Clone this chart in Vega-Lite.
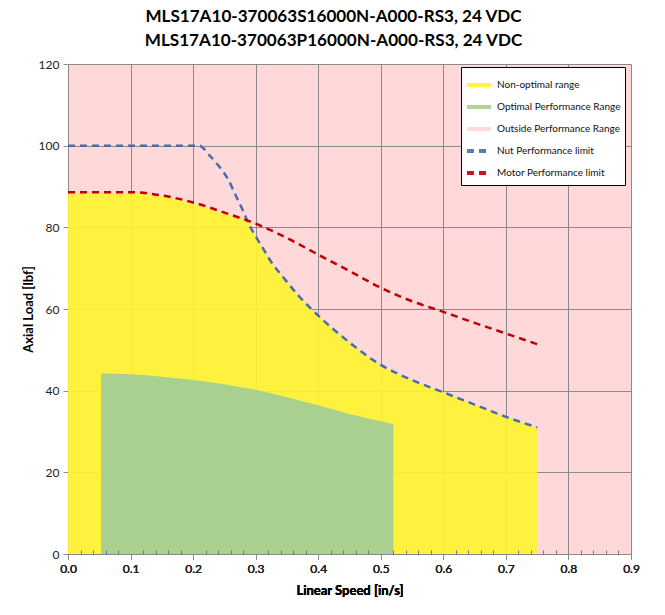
{
  "$schema": "https://vega.github.io/schema/vega-lite/v6.json",
  "autosize": {"type": "none"},
  "width": 563,
  "height": 490,
  "padding": {"left": 68, "top": 64, "right": 34, "bottom": 61},
  "background": "white",
  "title": {
    "text": ["MLS17A10-370063S16000N-A000-RS3, 24 VDC", "MLS17A10-370063P16000N-A000-RS3, 24 VDC"],
    "font": "Lato",
    "fontSize": 17.1,
    "fontWeight": "bold",
    "color": "#000000",
    "lineHeight": 24,
    "anchor": "middle",
    "frame": "group",
    "dx": -16,
    "offset": 9
  },
  "config": {
    "font": "Lato",
    "view": {"fill": "#FFD8D9", "stroke": null}
  },
  "datasets": {
    "nonOptimal": [
      {"speed": 0.0, "load": 88.3}, {"speed": 0.05, "load": 88.3}, {"speed": 0.1, "load": 88.3},
      {"speed": 0.15, "load": 87.6}, {"speed": 0.2, "load": 85.8}, {"speed": 0.25, "load": 83.3},
      {"speed": 0.287, "load": 81.6}, {"speed": 0.3, "load": 77.8}, {"speed": 0.31, "load": 75.3},
      {"speed": 0.325, "load": 71.5}, {"speed": 0.345, "load": 67.6}, {"speed": 0.37, "load": 63.0},
      {"speed": 0.4, "load": 58.4}, {"speed": 0.45, "load": 51.8}, {"speed": 0.5, "load": 46.3},
      {"speed": 0.55, "load": 42.6}, {"speed": 0.6, "load": 39.6}, {"speed": 0.65, "load": 36.6},
      {"speed": 0.7, "load": 33.6}, {"speed": 0.75, "load": 31.0}
    ],
    "optimal": [
      {"speed": 0.053, "load": 44.2}, {"speed": 0.1, "load": 44.0}, {"speed": 0.15, "load": 43.4},
      {"speed": 0.2, "load": 42.6}, {"speed": 0.25, "load": 41.6}, {"speed": 0.3, "load": 40.2},
      {"speed": 0.35, "load": 38.4}, {"speed": 0.4, "load": 36.4}, {"speed": 0.45, "load": 34.3},
      {"speed": 0.5, "load": 32.5}, {"speed": 0.52, "load": 31.8}
    ],
    "nutLimit": [
      {"speed": 0.0, "load": 100}, {"speed": 0.1, "load": 100}, {"speed": 0.21, "load": 100},
      {"speed": 0.225, "load": 97.8}, {"speed": 0.24, "load": 95.2}, {"speed": 0.255, "load": 92.0},
      {"speed": 0.27, "load": 87.2}, {"speed": 0.28, "load": 84.0}, {"speed": 0.29, "load": 80.5},
      {"speed": 0.3, "load": 77.8}, {"speed": 0.31, "load": 75.3}, {"speed": 0.325, "load": 71.5},
      {"speed": 0.345, "load": 67.6}, {"speed": 0.37, "load": 63.0}, {"speed": 0.4, "load": 58.4},
      {"speed": 0.45, "load": 51.8}, {"speed": 0.5, "load": 46.3}, {"speed": 0.55, "load": 42.6},
      {"speed": 0.6, "load": 39.6}, {"speed": 0.65, "load": 36.6}, {"speed": 0.7, "load": 33.6},
      {"speed": 0.75, "load": 31.0}
    ],
    "motorLimit": [
      {"speed": 0.0, "load": 88.6}, {"speed": 0.05, "load": 88.6}, {"speed": 0.1, "load": 88.6},
      {"speed": 0.15, "load": 87.8}, {"speed": 0.2, "load": 86.1}, {"speed": 0.25, "load": 83.6},
      {"speed": 0.3, "load": 80.9}, {"speed": 0.35, "load": 77.4}, {"speed": 0.4, "load": 73.3},
      {"speed": 0.45, "load": 69.3}, {"speed": 0.5, "load": 65.2}, {"speed": 0.55, "load": 61.9},
      {"speed": 0.6, "load": 59.3}, {"speed": 0.65, "load": 56.6}, {"speed": 0.7, "load": 54.0},
      {"speed": 0.75, "load": 51.4}
    ]
  },
  "resolve": {"axis": {"x": "independent"}},
  "encoding": {
    "x": {
      "field": "speed",
      "type": "quantitative",
      "scale": {"domain": [0, 0.9], "nice": false, "zero": false},
      "axis": {
        "title": "Linear Speed [in/s]",
        "orient": "bottom",
        "values": [0, 0.1, 0.2, 0.3, 0.4, 0.5, 0.6, 0.7, 0.8, 0.9],
        "format": ".1f",
        "gridColor": "#8A8A8A",
        "gridWidth": 1,
        "domainColor": "#8A8A8A",
        "tickColor": "#8A8A8A",
        "tickSize": 5,
        "labelFont": "Lato",
        "labelFontSize": 12,
        "labelColor": "#222222",
        "labelPadding": 4,
        "labelFlush": false,
        "labelOverlap": false,
        "titleFont": "Lato",
        "titleFontSize": 13,
        "titleFontWeight": "bold",
        "titleColor": "#000000",
        "titlePadding": 10
      }
    },
    "y": {
      "field": "load",
      "type": "quantitative",
      "scale": {"domain": [0, 120], "nice": false},
      "axis": {
        "title": "Axial Load [lbf]",
        "values": [0, 20, 40, 60, 80, 100, 120],
        "gridColor": "#8A8A8A",
        "gridWidth": 1,
        "domainColor": "#8A8A8A",
        "tickColor": "#8A8A8A",
        "tickSize": 5,
        "labelFont": "Lato",
        "labelFontSize": 12,
        "labelColor": "#222222",
        "labelPadding": 4,
        "labelFlush": false,
        "titleFont": "Lato",
        "titleFontSize": 13,
        "titleFontWeight": "bold",
        "titleColor": "#000000",
        "titlePadding": 3
      }
    }
  },
  "layer": [
    {
      "data": {"name": "nonOptimal"},
      "mark": {"type": "area", "opacity": 0.9, "interpolate": "monotone"},
      "encoding": {
        "color": {
          "datum": "Non-optimal range",
          "type": "nominal",
          "scale": {
            "domain": ["Non-optimal range", "Optimal Performance Range", "Outside Performance Range", "Nut Performance limit", "Motor Performance limit"],
            "range": ["#FFF52E", "#A9D08E", "#FFD8D9", "#4A6CAC", "#C00000"]
          },
          "legend": {
            "title": null,
            "orient": "none",
            "legendX": 393,
            "legendY": 3,
            "fillColor": "#FFFFFF",
            "strokeColor": "#000000",
            "padding": 4,
            "symbolSize": 576,
            "symbolType": "stroke",
            "symbolStrokeWidth": 4,
            "labelFont": "Lato",
            "labelFontSize": 10,
            "labelColor": "#111111",
            "labelOffset": 4,
            "rowPadding": -8
          }
        }
      }
    },
    {
      "data": {"name": "optimal"},
      "mark": {"type": "area", "interpolate": "monotone"},
      "encoding": {
        "color": {"datum": "Optimal Performance Range", "type": "nominal"}
      }
    },
    {
      "data": {"name": "nutLimit"},
      "mark": {"type": "line", "interpolate": "monotone", "strokeWidth": 2.5},
      "encoding": {
        "color": {"datum": "Nut Performance limit", "type": "nominal"},
        "strokeDash": {
          "datum": "Nut Performance limit",
          "type": "nominal",
          "scale": {
            "domain": ["Non-optimal range", "Optimal Performance Range", "Outside Performance Range", "Nut Performance limit", "Motor Performance limit"],
            "range": ["1,0", "1,0", "1,0", "7,5", "7,5"]
          },
          "legend": {"title": null}
        }
      }
    },
    {
      "data": {"name": "motorLimit"},
      "mark": {"type": "line", "interpolate": "monotone", "strokeWidth": 2.5},
      "encoding": {
        "x": {
          "field": "speed",
          "type": "quantitative",
          "scale": {"domain": [0, 0.9], "nice": false, "zero": false},
          "axis": {
            "title": null,
            "orient": "bottom",
            "values": [0.02, 0.04, 0.06, 0.08, 0.12, 0.14, 0.16, 0.18, 0.22, 0.24, 0.26, 0.28, 0.32, 0.34, 0.36, 0.38, 0.42, 0.44, 0.46, 0.48, 0.52, 0.54, 0.56, 0.58, 0.62, 0.64, 0.66, 0.68, 0.72, 0.74, 0.76, 0.78, 0.82, 0.84, 0.86, 0.88],
            "labels": false,
            "grid": false,
            "domain": false,
            "tickColor": "#777777",
            "tickWidth": 1,
            "tickSize": -4,
            "zindex": 2
          }
        },
        "color": {"datum": "Motor Performance limit", "type": "nominal"},
        "strokeDash": {"datum": "Motor Performance limit", "type": "nominal"}
      }
    }
  ]
}
